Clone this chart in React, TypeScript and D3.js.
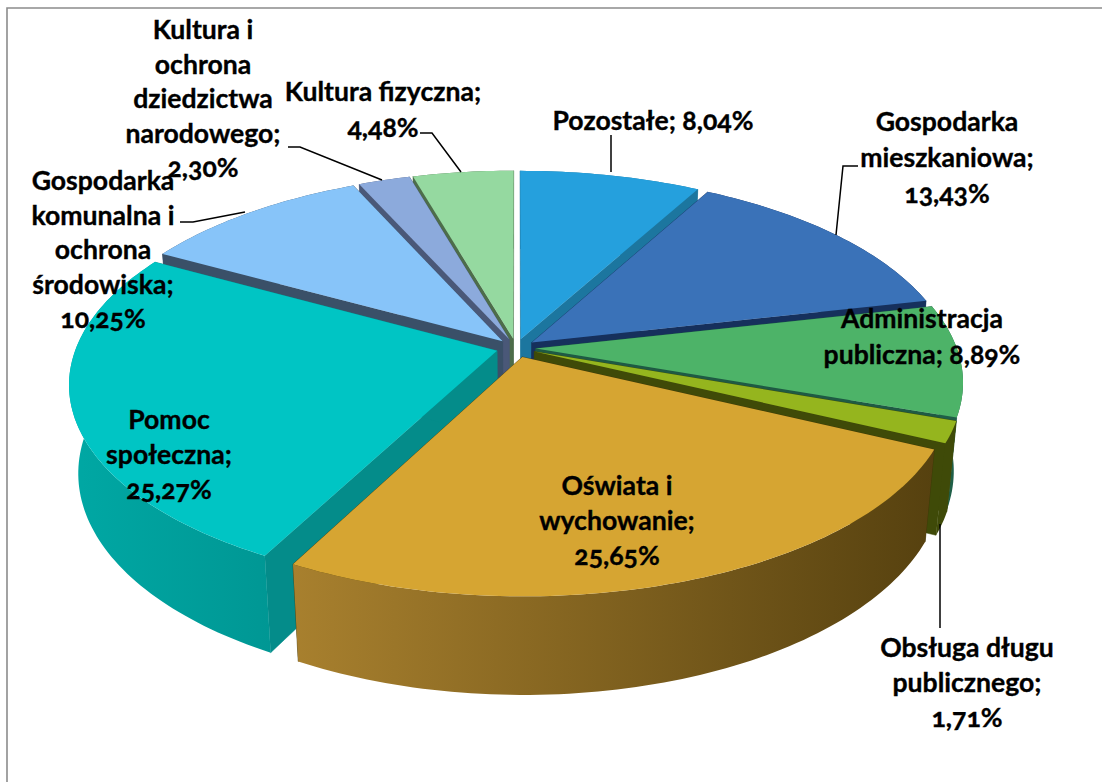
import React from "react";
import * as d3 from "d3";

const categories = ["Pozostałe","Gospodarka mieszkaniowa","Administracja publiczna","Obsługa długu publicznego","Oświata i wychowanie","Pomoc społeczna","Gospodarka komunalna i ochrona środowiska","Kultura i ochrona dziedzictwa narodowego","Kultura fizyczna"];
const shares = [8.04,13.43,8.89,1.71,25.65,25.27,10.25,2.30,4.48];
const topColors = ["#25a0dd","#3a72b8","#4db368","#95b51e","#d6a532","#00c5c4","#87c4f9","#8caadc","#95d9a0"];
const edgeColors = ["#1c769f","#16305c","#1f5a44","#3f4a08","#3f3408","#048c8a","#3a5068","#4a5878","#4d6d4a"];
const wallLeft = ["#1c769f","#16305c","#1f5f48","#3f4a08","#a8802e","#00a8a4","#3a5068","#4a5878","#4d6d4a"];
const wallRight = ["#1c769f","#16305c","#1f5f48","#3f4a08","#56410f","#009794","#3a5068","#4a5878","#4d6d4a"];
const paintOrder = [8,0,7,1,6,2,3,5,4];
const labelLines = [
  ["Pozostałe; 8,04%"],
  ["Gospodarka","mieszkaniowa;","13,43%"],
  ["Administracja","publiczna; 8,89%"],
  ["Obsługa długu","publicznego;","1,71%"],
  ["Oświata i","wychowanie;","25,65%"],
  ["Pomoc","społeczna;","25,27%"],
  ["Gospodarka","komunalna i","ochrona","środowiska;","10,25%"],
  ["Kultura i","ochrona","dziedzictwa","narodowego;","2,30%"],
  ["Kultura fizyczna;","4,48%"],
];
const labelX = [653,947,922,967,617,169,103,203,383];
const labelY = [120,121,318,647,485,419,180,29,91];
const labelStep = [0,36,36,35,35,35,34.5,34.5,36];
const leaderX = [[611,611],[858,843,836],[],[940,940],[],[],[180,193,245],[288,300,382],[420,432,461]];
const leaderY = [[135,172],[166,166,235],[],[524,628],[],[],[222,222,212],[147,147,180],[133,133,172]];

const W = 1102, H = 782;
const cx = 516, cy = 348, rx = 421;
const sinE = 0.47, cosE = Math.sqrt(1 - sinE * sinE);
const Dist = 5.5, focal = rx * Dist;
const wallH = 0.24, explode = 0.047;

function project(X: number, Y: number, Z: number): [number, number] {
  const u = Y * sinE + Z * cosE;
  const w = Y * cosE - Z * sinE;
  return [cx + (focal * X) / (Dist + w), cy - (focal * u) / (Dist + w)];
}
const path = d3.line<[number, number]>().x(d => d[0]).y(d => d[1]);

const pieLayout = d3.pie<number>().sort(null).startAngle(0).endAngle(2 * Math.PI);
const arcs = pieLayout(shares);

function geometry(i: number) {
  const a = arcs[i];
  const mid = (a.startAngle + a.endAngle) / 2;
  const ox = explode * Math.sin(mid), oy = explode * Math.cos(mid);
  const n = Math.max(4, Math.ceil((a.endAngle - a.startAngle) / 0.02));
  const angles = d3.range(n + 1).map(k => a.startAngle + ((a.endAngle - a.startAngle) * k) / n);
  const rim = (z: number) => angles.map(t => project(ox + Math.sin(t), oy + Math.cos(t), z));
  const apex = (z: number) => project(ox, oy, z);
  const topRim = rim(0), lowRim = rim(-wallH);
  return {
    top: path([apex(0), ...topRim])! + "Z",
    startWall: path([apex(0), topRim[0], lowRim[0], apex(-wallH)])! + "Z",
    endWall: path([apex(0), topRim[n], lowRim[n], apex(-wallH)])! + "Z",
    outer: path([...topRim, ...lowRim.slice().reverse()])! + "Z",
  };
}

export default function App() {
  return (
    <svg width={W} height={H} viewBox={`0 0 ${W} ${H}`} style={{ position: "absolute", left: 0, top: 0, display: "block", background: "#fff" }}>
      <defs>
        {categories.map((_, i) => (
          <linearGradient key={i} id={`wall${i}`} x1="0" x2="1" y1="0" y2="0">
            <stop offset="0" stopColor={wallLeft[i]} />
            <stop offset="1" stopColor={wallRight[i]} />
          </linearGradient>
        ))}
      </defs>
      <path d={path([[7, H], [7, 8], [W, 8]])!} fill="none" stroke="#8c8c8c" strokeWidth={1.6} />
      {paintOrder.map(i => {
        const g = geometry(i);
        return (
          <g key={i}>
            <path d={g.startWall} fill={edgeColors[i]} stroke={edgeColors[i]} strokeWidth={0.5} />
            <path d={g.endWall} fill={edgeColors[i]} stroke={edgeColors[i]} strokeWidth={0.5} />
            <path d={g.outer} fill={`url(#wall${i})`} />
            <path d={g.top} fill={topColors[i]} />
          </g>
        );
      })}
      {leaderX.map((xs, i) =>
        xs.length ? (
          <path key={i} d={path(xs.map((x, k) => [x, leaderY[i][k]] as [number, number]))!} fill="none" stroke="#000" strokeWidth={1.5} />
        ) : null
      )}
      {labelLines.map((lines, i) => (
        <text key={i} textAnchor="middle" fontFamily="Lato" fontWeight={700} fontSize={26.6} fill="#000" stroke="#000" strokeWidth={0.35} style={{ fontFeatureSettings: '"onum"' }}>
          {lines.map((s, k) => (
            <tspan key={k} x={labelX[i]} y={labelY[i] + k * labelStep[i]} dominantBaseline="central">{s}</tspan>
          ))}
        </text>
      ))}
    </svg>
  );
}
